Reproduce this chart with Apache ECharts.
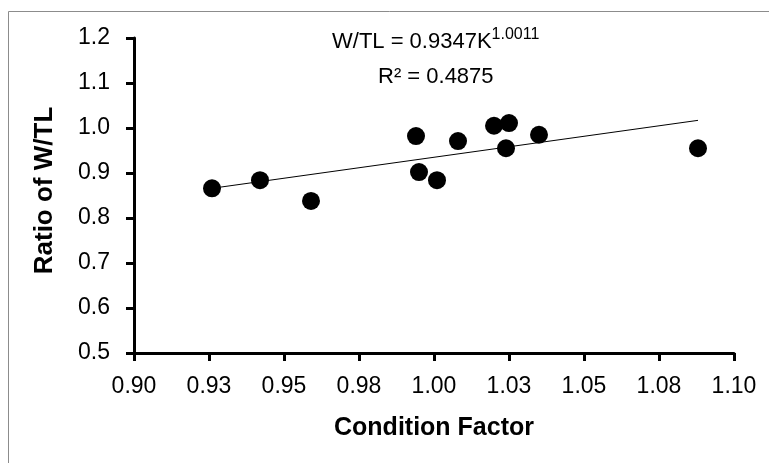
<!DOCTYPE html>
<html>
<head>
  <meta charset="utf-8">
  <title>Ratio of W/TL vs Condition Factor</title>
  <script src="https://cdn.jsdelivr.net/npm/echarts@6.0.0/dist/echarts.min.js"></script>
  <style>
    body { margin: 0; background: #ffffff; }
    #chart { width: 769px; height: 463px; }
  </style>
</head>
<body>
  <div id="chart"></div>
  <script>
    // data
    const conditionFactor = [0.926, 0.942, 0.959, 0.994, 0.995, 1.001, 1.008, 1.020, 1.025, 1.024, 1.035, 1.088];
    const ratioWTL = [0.866, 0.884, 0.838, 0.982, 0.902, 0.884, 0.971, 1.005, 1.011, 0.955, 0.985, 0.955];
    const trendX = [0.926, 1.088];
    const trendY = [0.866, 1.017];
    const xTickLabels = ['0.90', '0.93', '0.95', '0.98', '1.00', '1.03', '1.05', '1.08', '1.10'];
    const equationText = 'W/TL = 0.9347K';
    const equationExp = '1.0011';
    const r2Text = 'R² = 0.4875';

    const font = '"Liberation Sans", Arial, sans-serif';
    const chart = echarts.init(document.getElementById('chart'), null, { renderer: 'canvas' });

    const option = {
      backgroundColor: '#ffffff',
      animation: false,
      textStyle: { fontFamily: font },
      title: [
        {
          text: '{a|' + equationText + '}{s|' + equationExp + '}',
          left: 332,
          top: 27,
          padding: 0,
          textStyle: {
            fontWeight: 'normal',
            rich: {
              a: { fontFamily: font, fontSize: 22, fontWeight: 'normal', color: '#000', lineHeight: 26, verticalAlign: 'bottom' },
              s: { fontFamily: font, fontSize: 16, fontWeight: 'normal', color: '#000', lineHeight: 18, verticalAlign: 'top' }
            }
          }
        },
        {
          text: r2Text,
          left: 378,
          top: 66,
          padding: 0,
          textStyle: { fontFamily: font, fontSize: 22, fontWeight: 'normal', color: '#000' }
        }
      ],
      graphic: [{
        type: 'rect',
        shape: { x: 8.5, y: 11.5, width: 800, height: 500 },
        style: { fill: 'none', stroke: '#8c8c8c', lineWidth: 1 },
        silent: true
      }],
      grid: { left: 134, right: 35, top: 38, bottom: 110 },
      xAxis: {
        type: 'value',
        min: 0.9,
        max: 1.1,
        interval: 0.025,
        name: 'Condition Factor',
        nameLocation: 'middle',
        nameGap: 63,
        nameTextStyle: { fontFamily: font, fontSize: 25, fontWeight: 'bold', color: '#000' },
        axisLine: { onZero: false, lineStyle: { color: '#000', width: 3 } },
        axisTick: { show: true, length: 8, lineStyle: { color: '#000', width: 3 } },
        axisLabel: {
          margin: 22,
          fontSize: 23,
          color: '#000',
          formatter: (v) => xTickLabels[Math.round((v - 0.9) / 0.025)]
        },
        splitLine: { show: false }
      },
      yAxis: {
        type: 'value',
        min: 0.5,
        max: 1.2,
        interval: 0.1,
        name: 'Ratio of W/TL',
        nameLocation: 'middle',
        nameGap: 76,
        nameTextStyle: { fontFamily: font, fontSize: 26, fontWeight: 'bold', color: '#000', padding: [0, 0, 0, 10] },
        axisLine: { show: true, onZero: false, lineStyle: { color: '#000', width: 3 } },
        axisTick: { show: true, length: 8, lineStyle: { color: '#000', width: 3 } },
        axisLabel: {
          margin: 24,
          fontSize: 23,
          color: '#000',
          formatter: (v) => v.toFixed(1)
        },
        splitLine: { show: false }
      },
      series: [
        {
          type: 'line',
          data: trendX.map((x, i) => [x, trendY[i]]),
          showSymbol: false,
          lineStyle: { color: '#000', width: 1 },
          z: 1
        },
        {
          type: 'scatter',
          data: conditionFactor.map((x, i) => [x, ratioWTL[i]]),
          symbol: 'circle',
          symbolSize: 18,
          itemStyle: { color: '#000', opacity: 1 },
          z: 2
        }
      ]
    };

    chart.setOption(option);
  </script>
</body>
</html>
